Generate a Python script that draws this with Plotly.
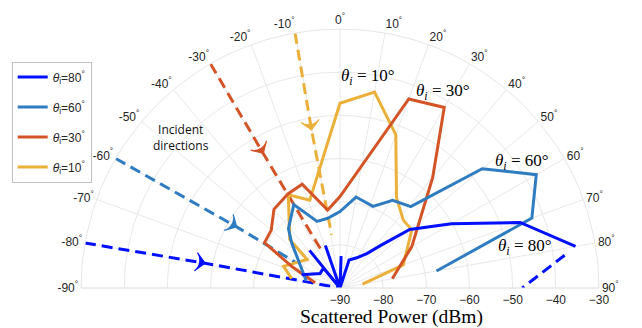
import plotly.graph_objects as go

# ---------------- data (theta in degrees, r in dBm) ----------------
theta10 = [-79, -69, -49, -46, -29, -19, 0, 10, 20, 32, 43, 51, 70, 80]
r10 = [-78.6, -76.0, -79.9, -73.8, -65.3, -68.5, -47.2, -43.9, -52.2, -65.3, -68.5, -68.6, -74.4, -84.7]

theta30 = [-78, -66, -59, -50, -40, -29, -20, -9, 0, 20, 30, 40, 60, 80]
r30 = [-84.1, -77.8, -69.6, -69.2, -66.2, -65.1, -64.4, -71.7, -68.8, -43.4, -41.7, -56.6, -70.8, -77.7]

theta60 = [-78, -47, -41, -29, -19, -10, 0, 10, 22, 31, 41, 50, 60, 70, 80]
r60 = [-82.0, -74.7, -71.8, -67.9, -73.7, -73.6, -72.3, -68.6, -69.6, -66.3, -65.0, -47.0, -37.5, -42.7, -67.3]

theta80 = [-71, -54, -40, -40, -39, -20, -19, 0, 2, 0, 18, 29, 38, 44, 50, 60, 70, 80]
r80 = [-80.6, -84.3, -84.0, -90, -78.8, -90, -79.6, -90, -82.6, -90, -83.2, -82.0, -79.9, -76.1, -68.9, -60.2, -45.6, -34.6]

# incident directions: start, arrow position, end
inc10_theta = [-10, -10.2, -9]
inc10_r = [-30, -52.8, -77.5]
inc30_theta = [-30, -29.7, -26]
inc30_r = [-30, -54.1, -81]
inc60_theta = [-60, -59.4, -60]
inc60_r = [-30, -62.2, -78]
inc80_theta = [-80, -79.6, -80]
inc80_r = [-30, -58.2, -90]
# extra dashed segment near 80-90 deg
ext80_theta = [81.7, 90]
ext80_r = [-37.4, -47.8]

angle_ticks = list(range(-90, 91, 10))
angle_labels = [f"{v}<sup>°</sup>" for v in angle_ticks]
radial_ticks = [-90, -80, -70, -60, -50, -40, -30]

C80 = "#0010ff"
C60 = "#2f7dc0"
C30 = "#d35427"
C10 = "#ebb03a"

W, H = 642, 328
fig = go.Figure()

def dashed(th, rr, color, arrow=True):
    fig.add_trace(go.Scatterpolar(
        theta=th, r=rr, mode="lines",
        line=dict(color=color, width=3, dash="11px,6px"),
        showlegend=False, hoverinfo="skip"))
    if arrow:
        fig.add_trace(go.Scatterpolar(
            theta=th[:2], r=rr[:2], mode="markers",
            marker=dict(symbol="arrow-wide", size=[0, 13], color=color, opacity=1,
                        angleref="previous", line=dict(width=1.2, color=color)),
            showlegend=False, hoverinfo="skip"))

dashed(inc10_theta, inc10_r, C10)
dashed(inc30_theta, inc30_r, C30)
dashed(inc60_theta, inc60_r, C60)
dashed(inc80_theta, inc80_r, C80)
dashed(ext80_theta, ext80_r, C80, arrow=False)

series = [
    (theta10, r10, C10, "<i>θ</i><sub>i</sub>=10<sup>°</sup>", 4),
    (theta30, r30, C30, "<i>θ</i><sub>i</sub>=30<sup>°</sup>", 3),
    (theta60, r60, C60, "<i>θ</i><sub>i</sub>=60<sup>°</sup>", 2),
    (theta80, r80, C80, "<i>θ</i><sub>i</sub>=80<sup>°</sup>", 1),
]
for th, rr, c, name, rank in series:
    fig.add_trace(go.Scatterpolar(
        theta=th, r=rr, mode="lines", name=name,
        line=dict(color=c, width=3), legendrank=rank, legendgroup=name))

cx, cy, R = 340, 288, 259
fig.update_layout(
    width=W, height=H,
    margin=dict(l=0, r=0, t=0, b=0),
    paper_bgcolor="white",
    font=dict(family="Liberation Sans", size=12, color="#262626"),
    polar=dict(
        domain=dict(x=[(cx - R) / W, (cx + R) / W], y=[(H - cy) / H, (H - cy + R) / H]),
        sector=[0, 180],
        bgcolor="white",
        angularaxis=dict(rotation=90, direction="clockwise", tickmode="array",
                         tickvals=angle_ticks, ticktext=angle_labels,
                         showline=True, linecolor="#e6e6e6", linewidth=1,
                         gridcolor="#e8e8e8", ticks="",
                         tickfont=dict(size=12, color="#262626")),
        radialaxis=dict(range=[-90, -30], tickmode="array", tickvals=radial_ticks,
                        angle=0, side="clockwise", showline=False,
                        ticks="outside", ticklen=1, tickcolor="rgba(0,0,0,0)",
                        gridcolor="#e8e8e8", tickangle=0,
                        tickfont=dict(size=12, color="#262626")),
    ),
    legend=dict(x=11.7 / W, y=1 - 61.5 / H, xanchor="left", yanchor="top",
                bordercolor="#c0c0c0", borderwidth=1, bgcolor="white",
                font=dict(size=12, color="#262626"), tracegroupgap=11,
                traceorder="grouped"),
)

def ann(x, y, text, size, family, color="black"):
    fig.add_annotation(x=x / W, y=1 - y / H, xref="paper", yref="paper", text=text,
                       showarrow=False, font=dict(size=size, family=family, color=color),
                       xanchor="center", yanchor="middle", align="center")

serif = "Liberation Serif"
ann(368, 77, "<i>θ</i><sub><i>i</i></sub> = 10°", 17, serif)
ann(443, 92, "<i>θ</i><sub><i>i</i></sub> = 30°", 17, serif)
ann(522, 162, "<i>θ</i><sub><i>i</i></sub> = 60°", 17, serif)
ann(525, 247, "<i>θ</i><sub><i>i</i></sub> = 80°", 17, serif)
ann(181, 138, "Incident<br>directions", 12, "Open Sans", "#111111")
ann(391, 317, "Scattered Power (dBm)", 19.5, serif)

fig.write_html("out.html")
